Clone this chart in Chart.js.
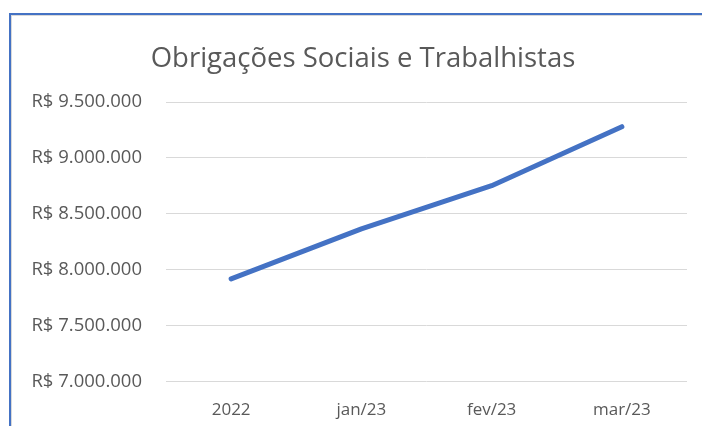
<!DOCTYPE html>
<html><head><meta charset="utf-8">
<script src="https://cdn.jsdelivr.net/npm/chart.js@4"></script>
<style>
html,body{margin:0;padding:0;width:702px;height:426px;overflow:hidden;background:#fff;}
#frame{position:absolute;left:9px;top:13px;width:720px;height:430px;border-top:2px solid #4472C4;border-left:2px solid #4472C4;box-shadow:inset 1px 1px 0 #d9d9d9;}
#wrap{position:absolute;left:11px;top:15px;width:704px;height:423px;}
</style></head>
<body>
<div id="frame"></div>
<div id="wrap"><canvas id="c"></canvas></div>
<script>
const title = "Obrigações Sociais e Trabalhistas";
const categories = ["2022", "jan/23", "fev/23", "mar/23"];
const values = [7919000, 8365000, 8752000, 9279000];
const yMin = 7000000, yMax = 9500000, yStep = 500000;

function fmt(v){ return "R$ " + v.toString().replace(/\B(?=(\d{3})+(?!\d))/g, "."); }

const widenLabelClip = { id: 'widenLabelClip', afterLayout(chart){ chart.scales.y.left -= 20; } };

function draw(){
new Chart(document.getElementById('c'), {
  type: 'line',
  data: { labels: categories, datasets: [{
    data: values, borderColor: '#4472C4', borderWidth: 5, borderCapStyle: 'round', borderJoinStyle: 'round',
    pointRadius: 0, tension: 0, fill: false
  }]},
  plugins: [widenLabelClip],
  options: {
    responsive: true, maintainAspectRatio: false, animation: false,
    layout: { padding: { left: 28, right: 28, top: 0, bottom: 0 } },
    plugins: {
      legend: { display: false }, tooltip: { enabled: false },
      title: { display: true, text: title, color: '#595959',
        font: { family: 'Open Sans', size: 27.5, weight: 'normal' }, padding: { top: 28, bottom: 26 } }
    },
    scales: {
      x: { offset: true, grid: { display: false, drawTicks: false }, border: { display: false },
        ticks: { color: '#595959', font: { family: 'Open Sans', size: 17 }, padding: 18, maxRotation: 0 } },
      y: { min: yMin, max: yMax, grid: { color: '#d9d9d9', drawTicks: false }, border: { display: false },
        afterFit: a => { a.width = 127; },
        ticks: { stepSize: yStep, color: '#595959', font: { family: 'Open Sans', size: 18.5 }, padding: 24, callback: v => fmt(v) } }
    }
  }
});
}
Promise.all([document.fonts.load('18px "Open Sans"'), document.fonts.load('28px "Open Sans"')]).then(draw, draw);
</script>
</body></html>
